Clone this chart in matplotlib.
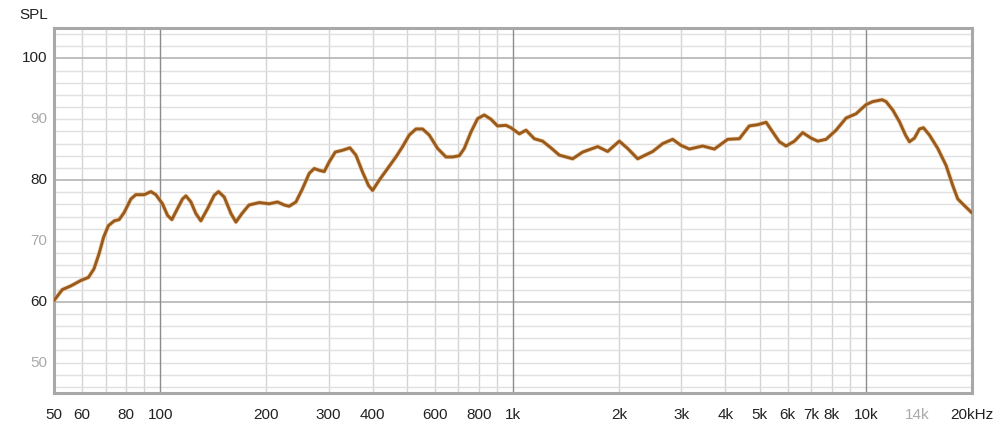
import matplotlib
matplotlib.use("Agg")
import matplotlib.pyplot as plt
import matplotlib.patheffects as pe

freq_hz = [50, 52.8, 55.8, 59.6, 62.6, 64.9, 67.1, 69.1, 71.3, 74.1, 76.5, 79.1, 82.6, 85.3,
           90.1, 94.1, 97.2, 101.5, 104.9, 107.9, 111.9, 115.7, 118.3, 122.2, 126.2, 130.4,
           136.2, 142.3, 146.3, 151.9, 158.7, 163.9, 170.5, 178.5, 190.9, 203.7, 215, 224.7,
           232, 242.5, 253.2, 264.5, 273.3, 282.4, 291.7, 301.4, 313.4, 328.7, 345, 358.7,
           374.7, 389.6, 399.9, 417.8, 441.1, 465.7, 486.4, 508, 530.9, 554.2, 578.9, 611.3,
           645.6, 674.4, 704.3, 727.6, 760.1, 793.7, 829, 866, 904, 955, 987, 1030, 1042,
           1089, 1149, 1213, 1281, 1353, 1476, 1575, 1738, 1855, 2001, 2113, 2256, 2489,
           2657, 2834, 2995, 3162, 3448, 3722, 4060, 4382, 4674, 4937, 5218, 5446, 5689,
           5943, 6277, 6624, 6997, 7306, 7716, 8235, 8793, 9384, 10018, 10464, 11122, 11415,
           11928, 12456, 12956, 13297, 13736, 14192, 14570, 15148, 15996, 16887, 17640,
           18224, 19036, 19930, 20000]
spl_db = [60.2, 62.0, 62.6, 63.5, 64.0, 65.4, 67.9, 70.6, 72.5, 73.3, 73.5, 74.7, 76.9, 77.6,
          77.6, 78.1, 77.6, 76.1, 74.2, 73.5, 75.3, 76.9, 77.4, 76.4, 74.5, 73.3,
          75.3, 77.5, 78.1, 77.2, 74.5, 73.1, 74.5, 75.9, 76.3, 76.1, 76.4, 75.9,
          75.7, 76.4, 78.6, 81.1, 81.9, 81.6, 81.4, 83.0, 84.6, 84.9, 85.3, 84.1,
          81.3, 79.1, 78.3, 80.0, 81.9, 83.8, 85.5, 87.4, 88.4, 88.4, 87.4, 85.2,
          83.8, 83.8, 84.0, 85.2, 87.9, 90.1, 90.7, 90.0, 88.9, 89.0, 88.6, 87.8, 87.6,
          88.2, 86.8, 86.4, 85.3, 84.1, 83.5, 84.6, 85.5, 84.7, 86.4, 85.2, 83.5, 84.7,
          86.0, 86.7, 85.7, 85.1, 85.6, 85.1, 86.7, 86.8, 88.9, 89.1, 89.5, 87.9, 86.3,
          85.6, 86.4, 87.8, 86.9, 86.4, 86.7, 88.2, 90.2, 90.9, 92.4, 92.9, 93.2, 92.9,
          91.5, 89.6, 87.4, 86.3, 86.9, 88.4, 88.6, 87.4, 85.2, 82.4, 79.1,
          76.9, 75.8, 74.7, 74.6]

x_tick_vals = [50, 60, 80, 100, 200, 300, 400, 600, 800, 1000, 2000, 3000, 4000, 5000,
               6000, 7000, 8000, 10000, 14000, 20000]
x_tick_labels = ["50", "60", "80", "100", "200", "300", "400", "600", "800", "1k", "2k", "3k",
                 "4k", "5k", "6k", "7k", "8k", "10k", "14k", "20kHz"]
y_tick_vals = [50, 60, 70, 80, 90, 100]
y_tick_labels = ["50", "60", "70", "80", "90", "100"]

plt.rcParams['font.family'] = ['Liberation Sans', 'DejaVu Sans']

fig = plt.figure(figsize=(10, 4.34), dpi=100)
ax = fig.add_axes([0.054, 0.0945, 0.918, 0.841])
ax.set_xscale('log')
ax.set_xlim(50, 20000)
ax.set_ylim(45, 105)

# grid lines
grid_x = []
for dec in [10, 100, 1000, 10000]:
    for m in range(1, 10):
        v = dec * m
        if 50 < v < 20000:
            grid_x.append(v)
for v in grid_x:
    if v in (100, 1000, 10000):
        ax.axvline(v, color='#8c8c8c', lw=1.0, zorder=1)
    else:
        ax.axvline(v, color='#d4d4d4', lw=1.0, zorder=0.5)
for yv in range(46, 105, 2):
    if yv in (60, 80, 100):
        ax.axhline(yv, color='#b4b4b4', lw=1.2, zorder=0.8)
    else:
        ax.axhline(yv, color='#e0e0e0', lw=1.0, zorder=0.5)

ax.plot(freq_hz, spl_db, color='#9a5a1c', lw=2.1, zorder=3, solid_capstyle='round',
        solid_joinstyle='round',
        path_effects=[pe.Stroke(linewidth=3.2, foreground='#e2b47e', alpha=0.6), pe.Normal()])

ax.set_xticks([])
ax.set_yticks([])
ax.minorticks_off()
for s in ax.spines.values():
    s.set_color('#a8a8a8')
    s.set_linewidth(2.2)

# tick labels
for v, lab in zip(x_tick_vals, x_tick_labels):
    col = '#aaaaaa' if lab == "14k" else '#222222'
    ax.text(v, -0.04, lab, transform=ax.get_xaxis_transform(), ha='center', va='top',
            fontsize=11, color=col)
for v, lab in zip(y_tick_vals, y_tick_labels):
    col = '#222222' if v in (60, 80, 100) else '#aaaaaa'
    ax.text(-0.007, v, lab, transform=ax.get_yaxis_transform(), ha='right', va='center',
            fontsize=11, color=col)
fig.text(0.019, 0.965, "SPL", ha='left', va='center', fontsize=11, color='#222222')

fig.savefig("out.png", dpi=100)
